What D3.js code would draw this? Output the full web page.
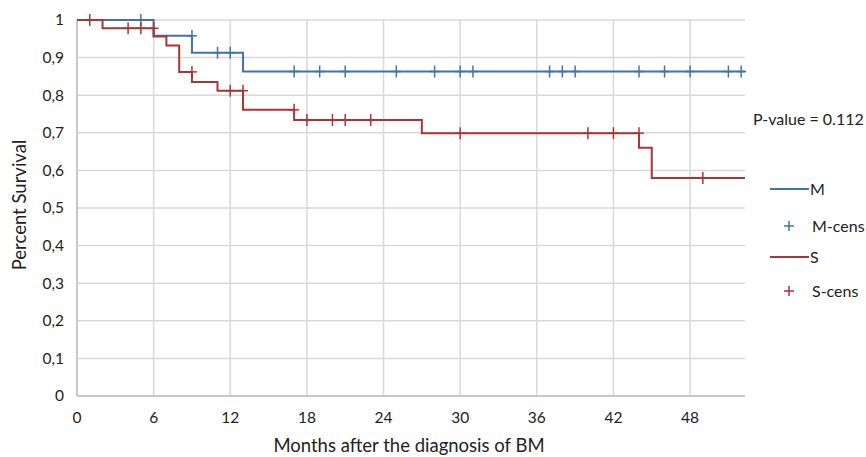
<!DOCTYPE html>
<html><head><meta charset="utf-8">
<script src="https://cdn.jsdelivr.net/npm/d3@7"></script>
<style>body{margin:0;background:#fff}svg{display:block}text{font-family:Lato,"Open Sans",sans-serif;fill:#222}</style>
</head><body><svg id="c" width="866" height="457"></svg>
<script>
const xTicks = [0,6,12,18,24,30,36,42,48];
const yTicks = [0,0.1,0.2,0.3,0.4,0.5,0.6,0.7,0.8,0.9,1];
const xMax = 52.3;
const mTimes = [0,6,9,13];
const mSurv = [1,0.958,0.913,0.863];
const mCens = [5,9,11,12,17,19,21,25,28,30,31,37,38,39,44,46,48,51,52];
const sTimes = [0,2,6,7,8,9,11,13,17,27,44,45];
const sSurv = [1,0.978,0.956,0.932,0.862,0.835,0.812,0.761,0.734,0.699,0.66,0.58];
const sCens = [1,4,5,6,9,12,13,17,18,20,21,23,30,40,42,44,49];
const legendNames = ["M","M-cens","S","S-cens"];
const pText = "P-value = 0.112";
const blue = "#4472A8", red = "#A83636", grid = "#d9d9d9";

const svg = d3.select("#c");
const x = d3.scaleLinear().domain([0,xMax]).range([77,745]);
const y = d3.scaleLinear().domain([0,1]).range([396,20]);

svg.append("g").selectAll("line").data(yTicks).join("line")
  .attr("x1",x(0)).attr("x2",x(xMax)).attr("y1",d=>y(d)).attr("y2",d=>y(d))
  .attr("stroke",grid).attr("stroke-width",1.5);
svg.append("g").selectAll("line").data(xTicks).join("line")
  .attr("x1",d=>x(d)).attr("x2",d=>x(d)).attr("y1",y(0)).attr("y2",y(1))
  .attr("stroke",grid).attr("stroke-width",1.5);
svg.append("line").attr("x1",x(0)).attr("x2",x(xMax)).attr("y1",y(0)).attr("y2",y(0)).attr("stroke","#bfbfbf").attr("stroke-width",1.5);
svg.append("line").attr("x1",x(0)).attr("x2",x(0)).attr("y1",y(0)).attr("y2",y(1)).attr("stroke","#bfbfbf").attr("stroke-width",1.5);

const fmt = d => d3.format("~g")(d).replace(".",",");
svg.append("g").selectAll("text").data(yTicks).join("text")
  .attr("x",64).attr("y",d=>y(d)).attr("dy","0.35em").attr("text-anchor","end")
  .style("font-size","15.5px").text(fmt);
svg.append("g").selectAll("text").data(xTicks).join("text")
  .attr("x",d=>x(d)).attr("y",423).attr("text-anchor","middle")
  .style("font-size","15.5px").text(d=>d);
svg.append("text").attr("x",409).attr("y",452).attr("text-anchor","middle").style("font-size","18.5px").text("Months after the diagnosis of BM");
svg.append("text").attr("transform","translate(26,205) rotate(-90)").attr("text-anchor","middle").style("font-size","18.5px").text("Percent Survival");

function stepPath(times, surv){
  const pts = times.map((t,i)=>[t,surv[i]]);
  pts.push([xMax, surv[surv.length-1]]);
  return d3.line().x(d=>x(d[0])).y(d=>y(d[1])).curve(d3.curveStepAfter)(pts);
}
function survAt(times, surv, t){
  let v = surv[0];
  for(let i=0;i<times.length;i++){ if(times[i] < t) v = surv[i]; }
  return v;
}
function drawCurve(times, surv, cens, color){
  svg.append("path").attr("d",stepPath(times,surv)).attr("fill","none").attr("stroke",color).attr("stroke-width",2);
  const g = svg.append("g").attr("stroke",color).attr("stroke-width",1.5);
  cens.forEach(t=>{
    const cx = x(t), cy = y(survAt(times,surv,t));
    g.append("line").attr("x1",cx).attr("x2",cx).attr("y1",cy-6).attr("y2",cy+6);
    g.append("line").attr("x1",cx-5).attr("x2",cx+5).attr("y1",cy).attr("y2",cy);
  });
}
drawCurve(mTimes,mSurv,mCens,blue);
drawCurve(sTimes,sSurv,sCens,red);

svg.append("text").attr("x",753).attr("y",125).style("font-size","16px").text(pText);

const legY = [189,226,257,291];
const legColors = [blue,blue,red,red];
legendNames.forEach((n,i)=>{
  const yy = legY[i];
  if(i%2===0){
    svg.append("line").attr("x1",770).attr("x2",809).attr("y1",yy).attr("y2",yy).attr("stroke",legColors[i]).attr("stroke-width",2);
  } else {
    svg.append("line").attr("x1",789).attr("x2",789).attr("y1",yy-5).attr("y2",yy+5).attr("stroke",legColors[i]).attr("stroke-width",1.5);
    svg.append("line").attr("x1",784).attr("x2",794).attr("y1",yy).attr("y2",yy).attr("stroke",legColors[i]).attr("stroke-width",1.5);
  }
  svg.append("text").attr("x",i%2===0?810:812).attr("y",yy).attr("dy","0.35em").style("font-size","16px").text(n);
});
</script></body></html>
